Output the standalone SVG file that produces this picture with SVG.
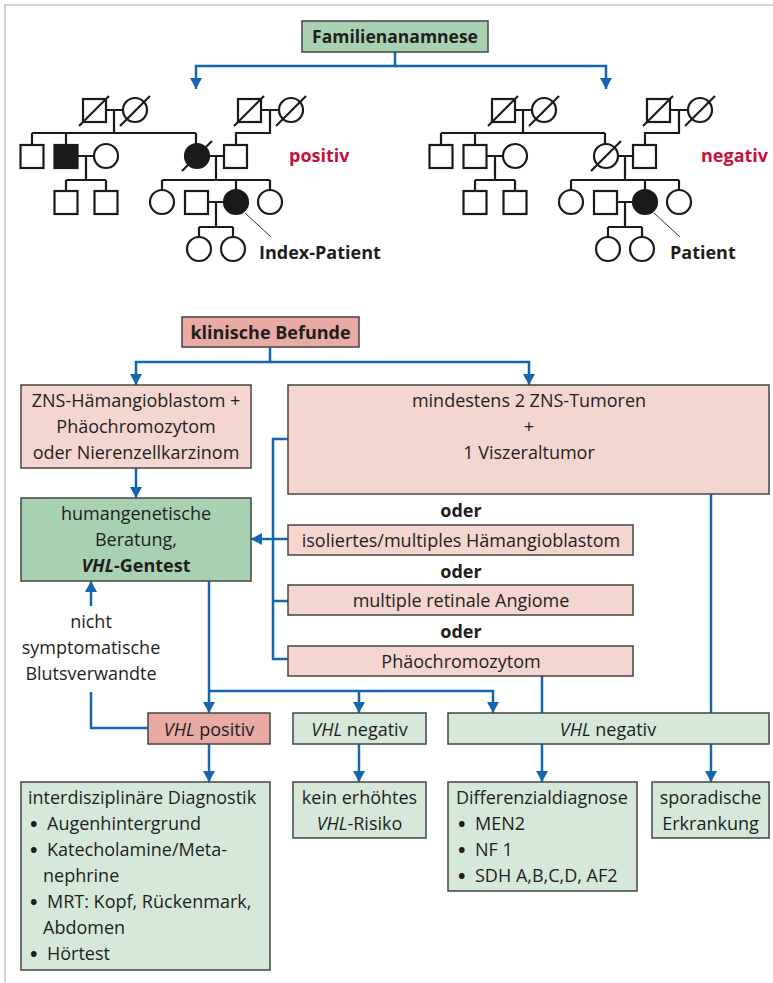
<svg xmlns="http://www.w3.org/2000/svg" width="773" height="983" viewBox="0 0 773 983">
<style>
text{font-family:"Open Sans","Noto Sans","Liberation Sans",sans-serif;font-size:18px;fill:#1e1e1e}
.b{font-weight:bold}
.c{text-anchor:middle}
.bul{font-weight:bold;font-size:20px}
.red{fill:#c8103c;font-weight:bold}
.box{stroke:#444;stroke-width:1.5}
.g1{fill:#a8d1b1}
.g2{fill:#d6e8da}
.r1{fill:#e8aaa3}
.r2{fill:#f4d5d0}
.con{fill:none;stroke:#1565b0;stroke-width:2.5}
.arr{marker-end:url(#ah)}
.ped{fill:#fff;stroke:#1a1a1a;stroke-width:2.2}
.pedf{fill:#1a1a1a;stroke:#1a1a1a;stroke-width:2.2}
.pl{fill:none;stroke:#1a1a1a;stroke-width:2.2}
.ptr{fill:none;stroke:#333;stroke-width:1}
.frame{fill:none;stroke:#d4d4d4;stroke-width:2}
</style>
<defs>
<marker id="ah" markerUnits="userSpaceOnUse" markerWidth="12" markerHeight="12" refX="11" refY="6" orient="auto">
<path d="M0,0 L11,6 L0,12 z" fill="#1565b0"/>
</marker>
</defs>
<rect width="773" height="983" fill="#fff"/>
<path class="frame" d="M5,983 V5 H773"/>

<g id="connectors">
<path class="con arr" d="M395,52 V66 H196 V89"/>
<path class="con arr" d="M395,66 H606 V89"/>
<path class="con arr" d="M270,347 V362 H136 V385"/>
<path class="con arr" d="M270,362 H529 V385"/>
<path class="con arr" d="M136,468 V498"/>
<path class="con" d="M288,439 H273 V659 H288"/>
<path class="con" d="M273,601 H288"/>
<path class="con arr" d="M288,539 H251"/>
<path class="con arr" d="M209,581 V713"/>
<path class="con arr" d="M209,691 H493 V713"/>
<path class="con arr" d="M359,691 V713"/>
<path class="con" d="M542,676 V713"/>
<path class="con" d="M711,494 V713"/>
<path class="con" d="M148,728 H91 V692"/>
<path class="con arr" d="M91,606 V581"/>
<path class="con arr" d="M209,744 V782"/>
<path class="con arr" d="M359,744 V782"/>
<path class="con arr" d="M542,744 V782"/>
<path class="con arr" d="M711,744 V782"/>
</g>

<g id="familienanamnese">
<rect class="box g1" x="302" y="21" width="186" height="31"/>
<text class="b c" x="395" y="43" style="font-size:17.5px">Familienanamnese</text>
</g>

<g id="pedigree-positiv">
<path class="pl" d="M106,110 H123 M114,110 V133 M32,133 H196 M32,133 V145 M66,133 V145 M196,133 V144 M77.5,156 H94 M86,156 V180 M66,180 H106 M66,180 V191 M106,180 V191 M209,156 H224 M216,156 V180 M261,110 H279 M270,110 V133 H236 V145 M162,180 H270 M162,180 V190 M236,180 V190 M270,180 V190 M208,202 H224 M216,202 V227 M199,227 H233 M199,227 V237 M233,227 V237"/>
<rect class="ped" x="83" y="99" width="23" height="23"/>
<line class="pl" x1="79" y1="126" x2="109" y2="96"/>
<circle class="ped" cx="135" cy="110" r="12"/>
<line class="pl" x1="120" y1="126" x2="150" y2="96"/>
<rect class="ped" x="238" y="99" width="23" height="23"/>
<line class="pl" x1="234" y1="126" x2="264" y2="96"/>
<circle class="ped" cx="291" cy="110" r="12"/>
<line class="pl" x1="276" y1="126" x2="306" y2="96"/>
<rect class="ped" x="20.5" y="145" width="23" height="23"/>
<rect class="pedf" x="54.5" y="145" width="23" height="23"/>
<circle class="ped" cx="106" cy="156" r="12"/>
<rect class="ped" x="54.5" y="191" width="23" height="23"/>
<rect class="ped" x="94.5" y="191" width="23" height="23"/>
<circle class="pedf" cx="197" cy="156" r="12"/>
<line class="pl" x1="182" y1="171" x2="212" y2="141"/>
<rect class="ped" x="224" y="145" width="23" height="23"/>
<circle class="ped" cx="162" cy="202" r="12"/>
<rect class="ped" x="185" y="191" width="23" height="23"/>
<circle class="pedf" cx="236" cy="202" r="12"/>
<circle class="ped" cx="270" cy="202" r="12"/>
<circle class="ped" cx="199" cy="249" r="12"/>
<circle class="ped" cx="233" cy="249" r="12"/>
<line class="ptr" x1="245" y1="213" x2="271" y2="237"/>
<text class="b" x="259" y="259">Index-Patient</text>
<text class="red" x="289" y="162">positiv</text>
</g>

<g id="pedigree-negativ">
<g transform="translate(409,0)">
<path class="pl" d="M106,110 H123 M114,110 V133 M32,133 H196 M32,133 V145 M66,133 V145 M196,133 V144 M77.5,156 H94 M86,156 V180 M66,180 H106 M66,180 V191 M106,180 V191 M209,156 H224 M216,156 V180 M261,110 H279 M270,110 V133 H236 V145 M162,180 H270 M162,180 V190 M236,180 V190 M270,180 V190 M208,202 H224 M216,202 V227 M199,227 H233 M199,227 V237 M233,227 V237"/>
<rect class="ped" x="83" y="99" width="23" height="23"/>
<line class="pl" x1="79" y1="126" x2="109" y2="96"/>
<circle class="ped" cx="135" cy="110" r="12"/>
<line class="pl" x1="120" y1="126" x2="150" y2="96"/>
<rect class="ped" x="238" y="99" width="23" height="23"/>
<line class="pl" x1="234" y1="126" x2="264" y2="96"/>
<circle class="ped" cx="291" cy="110" r="12"/>
<line class="pl" x1="276" y1="126" x2="306" y2="96"/>
<rect class="ped" x="20.5" y="145" width="23" height="23"/>
<rect class="ped" x="54.5" y="145" width="23" height="23"/>
<circle class="ped" cx="106" cy="156" r="12"/>
<rect class="ped" x="54.5" y="191" width="23" height="23"/>
<rect class="ped" x="94.5" y="191" width="23" height="23"/>
<circle class="ped" cx="197" cy="156" r="12"/>
<line class="pl" x1="182" y1="171" x2="212" y2="141"/>
<rect class="ped" x="224" y="145" width="23" height="23"/>
<circle class="ped" cx="162" cy="202" r="12"/>
<rect class="ped" x="185" y="191" width="23" height="23"/>
<circle class="pedf" cx="236" cy="202" r="12"/>
<circle class="ped" cx="270" cy="202" r="12"/>
<circle class="ped" cx="199" cy="249" r="12"/>
<circle class="ped" cx="233" cy="249" r="12"/>
<line class="ptr" x1="245" y1="213" x2="271" y2="237"/>
</g>
<text class="b" x="670" y="259">Patient</text>
<text class="red" x="701" y="162">negativ</text>
</g>

<g id="klinische-befunde">
<rect class="box r1" x="182" y="317" width="177" height="30"/>
<text class="b c" x="270.5" y="339">klinische Befunde</text>
</g>

<g id="zns-haemangioblastom">
<rect class="box r2" x="21" y="385" width="230" height="83"/>
<text class="c" x="136" y="407">ZNS-Hämangioblastom +</text>
<text class="c" x="136" y="433">Phäochromozytom</text>
<text class="c" x="136" y="459">oder Nierenzellkarzinom</text>
</g>

<g id="mindestens">
<rect class="box r2" x="288" y="385" width="481" height="109"/>
<text class="c" x="529" y="407">mindestens 2 ZNS-Tumoren</text>
<text class="c" x="529" y="433">+</text>
<text class="c" x="529" y="459">1 Viszeraltumor</text>
</g>

<g id="oder-labels">
<text class="b c" x="461" y="517">oder</text>
<text class="b c" x="461" y="578">oder</text>
<text class="b c" x="461" y="638">oder</text>
</g>

<g id="isoliertes">
<rect class="box r2" x="288" y="525" width="345" height="30"/>
<text class="c" x="461" y="547">isoliertes/multiples Hämangioblastom</text>
</g>

<g id="retinale-angiome">
<rect class="box r2" x="288" y="585" width="345" height="30"/>
<text class="c" x="461" y="607">multiple retinale Angiome</text>
</g>

<g id="phaeochromozytom">
<rect class="box r2" x="288" y="646" width="345" height="30"/>
<text class="c" x="461" y="668">Phäochromozytom</text>
</g>

<g id="humangenetische-beratung">
<rect class="box g1" x="21" y="498" width="230" height="83"/>
<text class="c" x="136" y="520">humangenetische</text>
<text class="c" x="136" y="546">Beratung,</text>
<text class="c b" x="136" y="572"><tspan font-style="italic">VHL</tspan>-Gentest</text>
</g>

<g id="blutsverwandte">
<text class="c" x="91" y="628">nicht</text>
<text class="c" x="91" y="654">symptomatische</text>
<text class="c" x="91" y="680">Blutsverwandte</text>
</g>

<g id="vhl-positiv">
<rect class="box r1" x="148" y="713" width="122" height="31"/>
<text class="c" x="209" y="736"><tspan font-style="italic">VHL</tspan> positiv</text>
</g>

<g id="vhl-negativ-1">
<rect class="box g2" x="293" y="713" width="133" height="31"/>
<text class="c" x="359.5" y="736"><tspan font-style="italic">VHL</tspan> negativ</text>
</g>

<g id="vhl-negativ-2">
<rect class="box g2" x="448" y="713" width="321" height="31"/>
<text class="c" x="608" y="736"><tspan font-style="italic">VHL</tspan> negativ</text>
</g>

<g id="interdisziplinaere-diagnostik">
<rect class="box g2" x="21" y="782" width="249" height="188"/>
<text x="28" y="804">interdisziplinäre Diagnostik</text>
<text class="bul" x="30" y="831">•</text><text x="47" y="830">Augenhintergrund</text>
<text class="bul" x="30" y="857">•</text><text x="47" y="856">Katecholamine/Meta-</text>
<text x="43" y="882">nephrine</text>
<text class="bul" x="30" y="909">•</text><text x="47" y="908">MRT: Kopf, Rückenmark,</text>
<text x="43" y="934">Abdomen</text>
<text class="bul" x="30" y="961">•</text><text x="47" y="960">Hörtest</text>
</g>

<g id="kein-risiko">
<rect class="box g2" x="293" y="782" width="133" height="56"/>
<text class="c" x="359.5" y="804">kein erhöhtes</text>
<text class="c" x="359.5" y="830"><tspan font-style="italic">VHL</tspan>-Risiko</text>
</g>

<g id="differenzialdiagnose">
<rect class="box g2" x="448" y="782" width="189" height="109"/>
<text x="456" y="804">Differenzialdiagnose</text>
<text class="bul" x="458" y="831">•</text><text x="475" y="830">MEN2</text>
<text class="bul" x="458" y="857">•</text><text x="475" y="856">NF 1</text>
<text class="bul" x="458" y="883">•</text><text x="475" y="882">SDH A,B,C,D, AF2</text>
</g>

<g id="sporadische-erkrankung">
<rect class="box g2" x="652" y="782" width="117" height="56"/>
<text class="c" x="710.5" y="804">sporadische</text>
<text class="c" x="710.5" y="830">Erkrankung</text>
</g>
</svg>
